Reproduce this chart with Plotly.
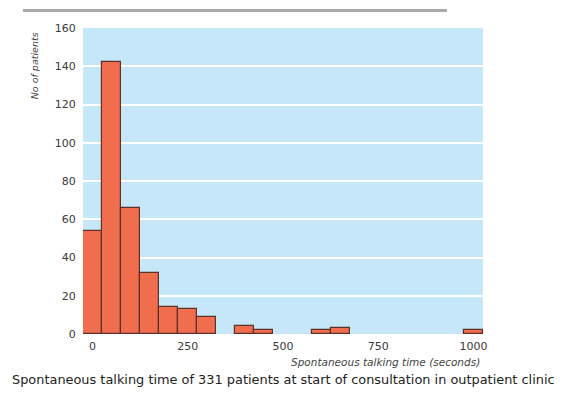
import plotly.graph_objects as go

# Bin centres (seconds) and counts
bin_centres = [0, 50, 100, 150, 200, 250, 300, 400, 450, 600, 650, 1000]
patients = [54, 142, 66, 32, 14, 13, 9, 4, 2, 2, 3, 2]
bin_width = 50

x_ticks = [0, 250, 500, 750, 1000]
y_ticks = [0, 20, 40, 60, 80, 100, 120, 140, 160]

x_title = "Spontaneous talking time (seconds)"
y_title = "No of patients"
caption = "Spontaneous talking time of 331 patients at start of consultation in outpatient clinic"

fig = go.Figure()
fig.add_trace(go.Bar(
    x=bin_centres,
    y=patients,
    width=[bin_width] * len(bin_centres),
    marker=dict(color="#f06e4e", line=dict(color="#5e3128", width=1.2)),
    hoverinfo="x+y",
))

font_family = "DejaVu Sans, Liberation Sans, Arial, sans-serif"

fig.update_layout(
    width=563,
    height=386,
    margin=dict(l=75, r=88, t=20, b=60),
    paper_bgcolor="white",
    plot_bgcolor="#c6e7f7",
    showlegend=False,
    bargap=0,
    font=dict(family=font_family, size=11, color="#3a3a3a"),
    xaxis=dict(
        range=[-25, 1025],
        tickvals=x_ticks,
        ticktext=[str(v) for v in x_ticks],
        showgrid=False,
        zeroline=False,
        showline=False,
        ticks="outside",
        ticklen=2,
        tickcolor="rgba(0,0,0,0)",
        tickfont=dict(size=11, color="#3a3a3a"),
    ),
    yaxis=dict(
        range=[0, 160],
        tickvals=y_ticks,
        showgrid=True,
        gridcolor="white",
        gridwidth=1.5,
        zeroline=False,
        showline=False,
        ticks="outside",
        ticklen=4,
        tickcolor="rgba(0,0,0,0)",
        tickfont=dict(size=11, color="#3a3a3a"),
    ),
    shapes=[
        dict(type="line", xref="paper", yref="paper",
             x0=-0.15, x1=0.91, y0=1.057, y1=1.057,
             line=dict(color="#a8a8a8", width=3)),
    ],
    annotations=[
        dict(text="<i>" + y_title + "</i>", xref="paper", yref="paper", x=-0.1225, y=0.875,
             textangle=-90, showarrow=False, xanchor="center", yanchor="middle",
             font=dict(size=9.5, color="#444444", family=font_family)),
        dict(text="<i>" + x_title + "</i>", xref="paper", yref="paper", x=0.9975, y=-0.0915,
             showarrow=False, xanchor="right", yanchor="middle",
             font=dict(size=10.5, color="#444444", family=font_family)),
        dict(text=caption, xref="paper", yref="paper", x=0.5, y=-0.150,
             showarrow=False, xanchor="center", yanchor="middle",
             font=dict(size=12.9, color="#222222", family=font_family)),
    ],
)

fig.write_html("out.html")
